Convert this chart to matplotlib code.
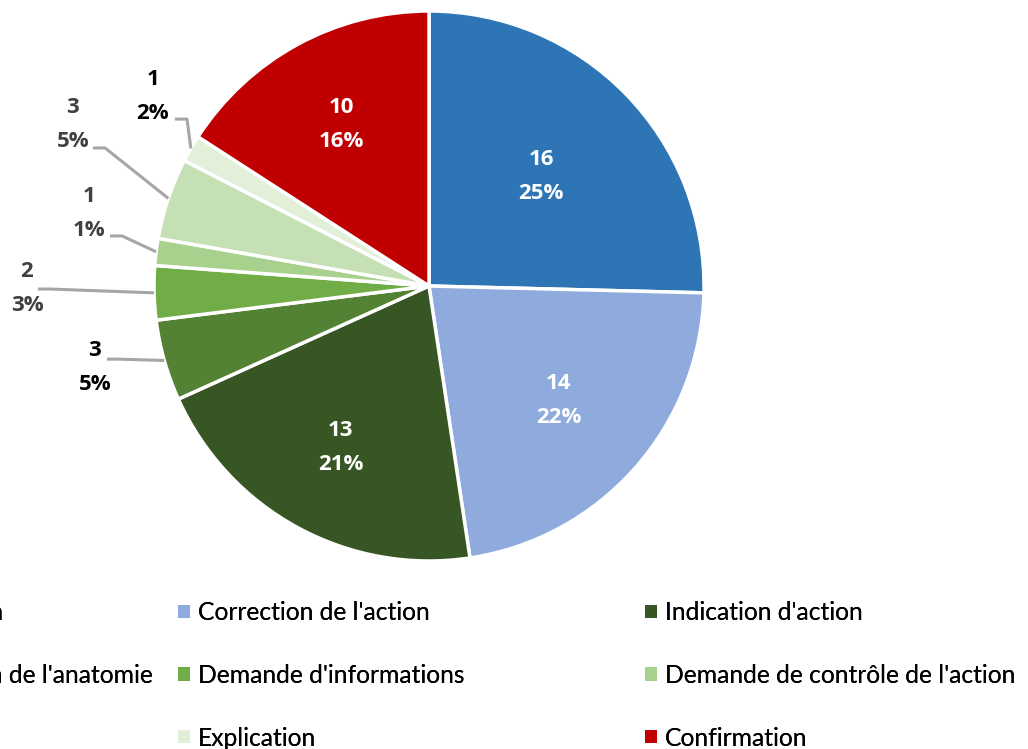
import matplotlib
matplotlib.use("Agg")
import numpy as np
import matplotlib.pyplot as plt
from matplotlib.patches import Patch

# data
categories = ["Encouragement à l'action", "Correction de l'action", "Indication d'action",
              "Demande d'identification de l'anatomie", "Demande d'informations",
              "Demande de contrôle de l'action", "Reformulation", "Explication", "Confirmation"]
counts = [16, 14, 13, 3, 2, 1, 3, 1, 10]
pct_labels = ["25%", "22%", "21%", "5%", "3%", "1%", "5%", "2%", "16%"]
colors = ["#2E75B6", "#8FAADC", "#375623", "#548235", "#70AD47", "#A9D18E", "#C5E0B4", "#E2F0D9", "#C00000"]

# label placement (inside: radius factor; outside: label centre and leader start, axes units)
inside_r = {0: 0.57, 1: 0.63, 2: 0.67, 8: 0.67}
outside_pos = {3: (-1.215, -0.296), 4: (-1.462, -0.009), 5: (-1.236, 0.264),
               6: (-1.295, 0.586), 7: (-1.004, 0.689)}
leader_start = {3: (-1.171, -0.266), 4: (-1.422, -0.011), 5: (-1.160, 0.182),
                6: (-1.222, 0.502), 7: (-0.924, 0.607)}
outside_color = {3: "black", 4: "#404040", 5: "#404040", 6: "#404040", 7: "black"}

plt.rcParams['font.family'] = ['Lato', 'DejaVu Sans']

fig = plt.figure(figsize=(10.28, 7.49), dpi=100)
ax = fig.add_axes([154 / 1028, (749 - 561) / 749, 550 / 1028, 550 / 749])

wedges, _ = ax.pie(counts, colors=colors, startangle=90, counterclock=False, radius=1,
                   wedgeprops=dict(edgecolor="white", linewidth=2.5))
ax.set_xlim(-1, 1)
ax.set_ylim(-1, 1)
ax.set_aspect("equal")
ax.axis("off")

lab_font = dict(family=["Open Sans", "DejaVu Sans"], fontsize=16, fontweight="bold",
                linespacing=1.8)
for i, w in enumerate(wedges):
    mid = np.deg2rad((w.theta1 + w.theta2) / 2)
    txt = f"{counts[i]}\n{pct_labels[i]}"
    if i in inside_r:
        r = inside_r[i]
        ax.text(r * np.cos(mid), r * np.sin(mid), txt, ha="center", va="center",
                color="white", **lab_font)
    else:
        lx, ly = outside_pos[i]
        ax.text(lx, ly, txt, ha="center", va="center", color=outside_color[i],
                clip_on=False, **lab_font)
        sx, sy = leader_start[i]
        ex, ey = np.cos(mid), np.sin(mid)
        elbow = sx + 0.044
        ax.plot([sx, elbow, ex], [sy, sy, ey], color="#A6A6A6", lw=2.2,
                solid_capstyle="butt", clip_on=False)

# legend: three columns, row-major order
fs = 17.7
col_x = [-289 / 1028, 178 / 1028, 645 / 1028]
for c in range(3):
    idx = [c, c + 3, c + 6]
    handles = [Patch(facecolor=colors[k], edgecolor="none") for k in idx]
    leg = fig.legend(handles, [categories[k] for k in idx], loc="upper left",
                     bbox_to_anchor=(col_x[c], (749 - 601) / 749), frameon=False,
                     fontsize=fs, handlelength=0.49, handleheight=0.45,
                     handletextpad=0.33, labelspacing=1.62, borderpad=0, borderaxespad=0)
    fig.add_artist(leg)

fig.savefig("out.png", dpi=100)
